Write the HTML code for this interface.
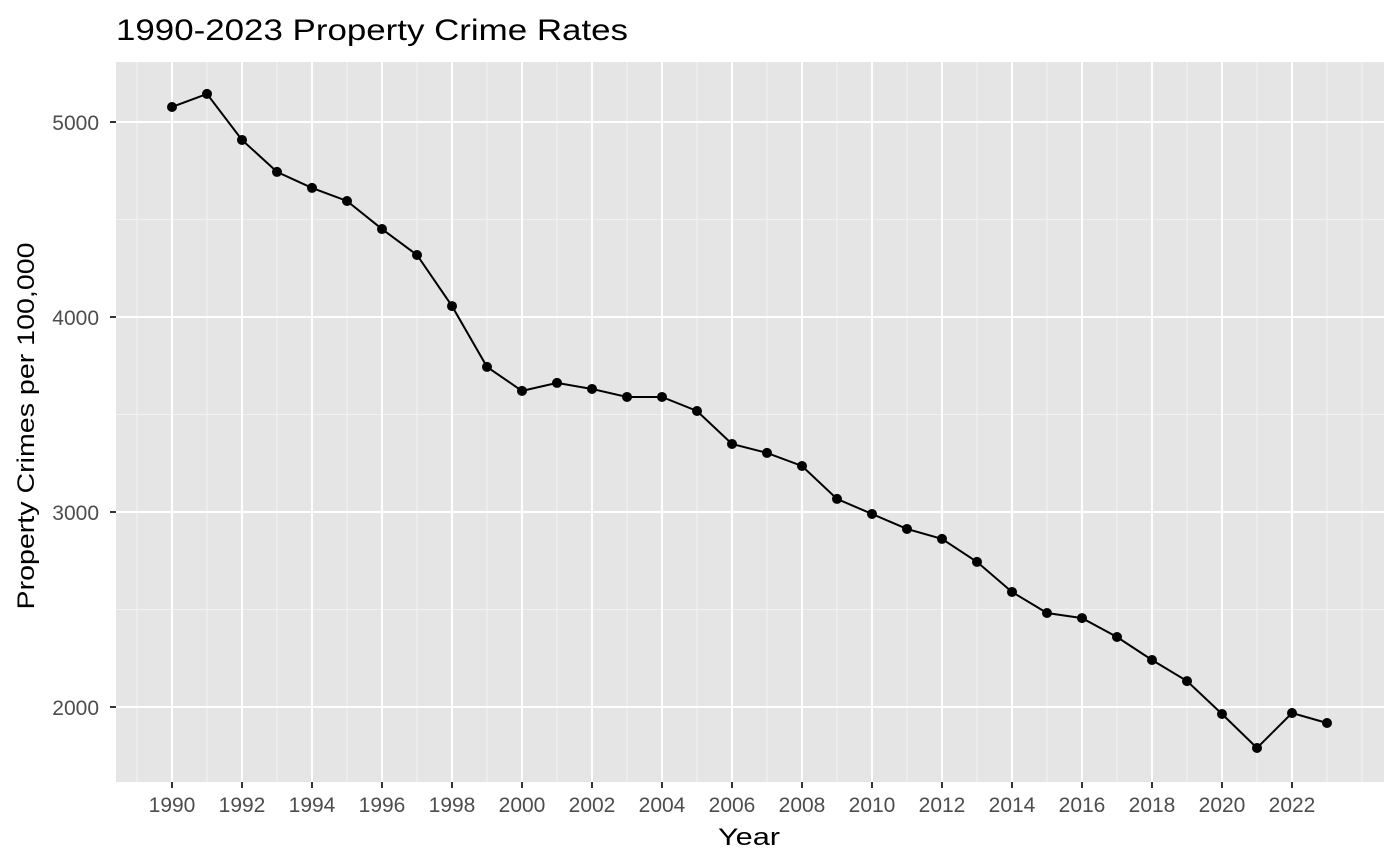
<!DOCTYPE html>
<html><head><meta charset="utf-8"><style>
body{margin:0;background:#fff;}
svg{display:block;font-family:"Liberation Sans",Arial,sans-serif;}
</style></head><body>
<svg id="chart" width="1400" height="865" viewBox="0 0 1400 865" xmlns="http://www.w3.org/2000/svg">
<text x="116" y="40" font-size="30" textLength="512" lengthAdjust="spacingAndGlyphs" fill="#000">1990-2023 Property Crime Rates</text>
<rect x="116" y="62" width="1268" height="720" fill="#e5e5e5"/>
<g id="grid"></g>
<g id="series"></g>
<g id="axes"></g>
<text x="749" y="845" font-size="24" textLength="62" lengthAdjust="spacingAndGlyphs" text-anchor="middle" fill="#000">Year</text>
<text transform="translate(34,426) rotate(-90)" font-size="24" textLength="367" lengthAdjust="spacingAndGlyphs" text-anchor="middle" fill="#000">Property Crimes per 100,000</text>
</svg>
<script>
const years=[1990,1991,1992,1993,1994,1995,1996,1997,1998,1999,2000,2001,2002,2003,2004,2005,2006,2007,2008,2009,2010,2011,2012,2013,2014,2015,2016,2017,2018,2019,2020,2021,2022,2023];
const rates=[5077,5144,4908,4744,4662,4595,4451,4318,4056,3744,3621,3662,3631,3590,3590,3518,3349,3303,3236,3067,2990,2913,2862,2744,2590,2482,2456,2359,2241,2133,1964,1790,1969,1918];
const xTicks=[1990,1992,1994,1996,1998,2000,2002,2004,2006,2008,2010,2012,2014,2016,2018,2020,2022];
const xMinor=[1989,1991,1993,1995,1997,1999,2001,2003,2005,2007,2009,2011,2013,2015,2017,2019,2021,2023,2024];
const yTicks=[2000,3000,4000,5000];
const yMinor=[2500,3500,4500];
const NS="http://www.w3.org/2000/svg";
const X=v=>172+(v-1990)*35;
const Y=v=>707-(v-2000)*0.195;
const L=116,R=1384,T=62,B=782;
const grid=document.getElementById('grid'),axes=document.getElementById('axes'),ser=document.getElementById('series');
function mk(tag,attrs,parent){const e=document.createElementNS(NS,tag);for(const k in attrs)e.setAttribute(k,attrs[k]);parent.appendChild(e);return e;}
yMinor.forEach(v=>{const e=mk('line',{x1:L,x2:R,y1:Y(v),y2:Y(v),stroke:'#f2f2f2','stroke-width':1},grid);

});
xMinor.forEach(v=>{const e=mk('line',{x1:X(v),x2:X(v),y1:T,y2:B,stroke:'#f2f2f2','stroke-width':1},grid);

});
yTicks.forEach(v=>{const e=mk('line',{x1:L,x2:R,y1:Y(v),y2:Y(v),stroke:'#fff','stroke-width':2},grid);


const t=mk('line',{x1:L-6,x2:L,y1:Y(v),y2:Y(v),stroke:'#333','stroke-width':2},axes);


const l=mk('text',{x:L-17,y:Y(v)+8,'font-size':21,'text-anchor':'end',fill:'#4d4d4d'},axes);l.textContent=v;

});
xTicks.forEach(v=>{const e=mk('line',{x1:X(v),x2:X(v),y1:T,y2:B,stroke:'#fff','stroke-width':2},grid);


const t=mk('line',{x1:X(v),x2:X(v),y1:B,y2:B+6,stroke:'#333','stroke-width':2},axes);


const l=mk('text',{x:X(v),y:B+30,'font-size':21,'text-anchor':'middle',fill:'#4d4d4d'},axes);l.textContent=v;

});
const pl=mk('polyline',{points:years.map((y,i)=>X(y)+','+Y(rates[i])).join(' '),fill:'none',stroke:'#000','stroke-width':2},ser);


years.forEach((y,i)=>{const c=mk('circle',{cx:X(y),cy:Y(rates[i]),r:5,fill:'#000'},ser);

});
</script>
</body></html>
